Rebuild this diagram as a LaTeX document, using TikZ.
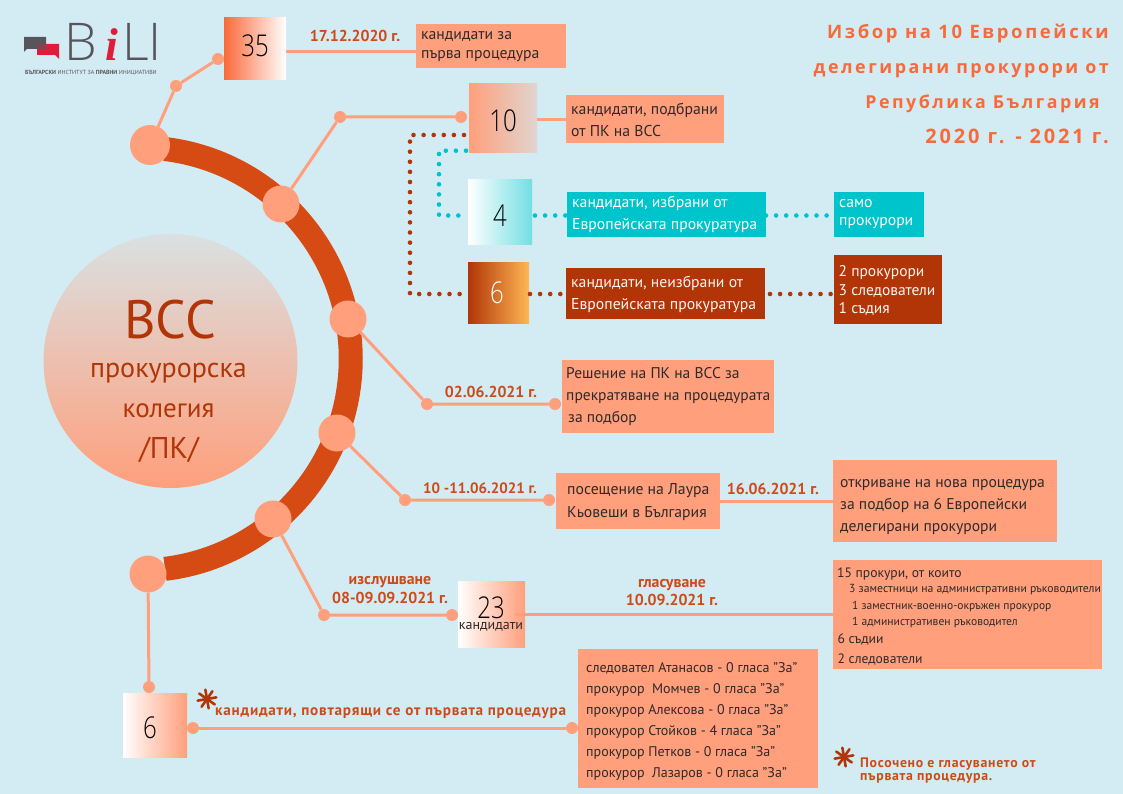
\documentclass[tikz,border=0pt]{standalone}
\usepackage{fontspec}
\usepackage{graphicx}
\setmainfont{PT Sans}
\newfontfamily\numfont{Open Sans Light}
\newfontfamily\ttlfont[LetterSpace=14]{Open Sans}
\newfontfamily\labfont[LetterSpace=5]{PT Sans}
\newfontfamily\logoifont{Liberation Serif}
\usetikzlibrary{calc}
\definecolor{bgc}{HTML}{D3ECF4}
\definecolor{sal}{HTML}{FF9F7C}
\definecolor{arcc}{HTML}{D64B14}
\definecolor{rust}{HTML}{B23507}
\definecolor{teal}{HTML}{00C4CC}
\definecolor{ttl}{HTML}{F96A3A}
\definecolor{lbl}{HTML}{CE4A17}
\definecolor{ink}{HTML}{2E2A2A}
\definecolor{logog}{HTML}{55555B}
\definecolor{logor}{HTML}{E31B3A}
\definecolor{amberc}{HTML}{FFB754}
\tikzset{
 x=1pt,y=-1pt,
 conn/.style={draw=sal,line width=3pt},
 dot/.style={circle,fill=sal,inner sep=0pt,minimum size=12pt},
 hub/.style={circle,fill=sal,inner sep=0pt,minimum size=37pt},
 numtxt/.style={inner sep=0pt,text=black,font=\numfont\fontsize{30}{30}\selectfont},
 txtbox/.style={fill=sal,inner ysep=0pt,inner xsep=5pt,text=ink,align=left},
 lab/.style={text=lbl,font=\bfseries\fontsize{15.8}{18.5}\selectfont,align=center,inner sep=0pt},
 lineT/.style={inner sep=0pt,anchor=base west,text=ink},
 ttlstyle/.style={text=ttl,inner sep=0pt,anchor=base east},
 dotsT/.style={draw=teal,line width=4.6pt,line cap=round,dash pattern=on 0pt off 10.1pt},
 dotsR/.style={draw=rust,line width=4.6pt,line cap=round,dash pattern=on 0pt off 10.1pt},
 asterisk/.style={draw=rust,line width=2.6pt,line cap=round},
}
% opts, name, x0,y0,x1,y1, dy, text
\newcommand{\bx}[8][]{%
 \pgfmathsetmacro{\bw}{#5-#3}\pgfmathsetmacro{\bh}{#6-#4}\pgfmathsetmacro{\bcx}{(#5+#3)/2}\pgfmathsetmacro{\bcy}{(#6+#4)/2}\pgfmathsetmacro{\tcy}{\bcy+#7}
 \node[txtbox,minimum width=\bw pt,minimum height=\bh pt,#1] (#2) at (\bcx,\bcy) {};
 \node[txtbox,#1,fill=none,anchor=west] (#2t) at (#3,\tcy) {#8};}
\newcommand{\nb}[7]{% name,x0,y0,x1,y1,leftcolor,rightcolor
 \pgfmathsetmacro{\bw}{#4-#2}\pgfmathsetmacro{\bh}{#5-#3}\pgfmathsetmacro{\bcx}{(#4+#2)/2}\pgfmathsetmacro{\bcy}{(#5+#3)/2}
 \node[inner sep=0pt,minimum width=\bw pt,minimum height=\bh pt,left color=#6,right color=#7,shading=axis,shading angle=90] (#1) at (\bcx,\bcy) {};}
\newcommand{\num}[1]{\scalebox{.8}[1]{#1}}
\newcommand{\astk}[2]{% x,y
 \foreach \aa in {10,55,100,145,190,235,280,325}{\draw[asterisk] (#1,#2) -- ++(\aa:9.5pt);}}
\begin{document}
\begin{tikzpicture}
\useasboundingbox (0,0) rectangle (1123,794);
\fill[bgc] (0,0) rectangle (1123,794);
% logo
\fill[logog] (24,37) -- (46,37) -- (46,49) -- (27,49) -- (24,52) -- cycle;
\fill[logor] (37,44) -- (59,44) -- (59,59) -- (55,55) -- (37,55) -- cycle;
\fill[logog!70!logor] (37,44) rectangle (46,49);
\node[inner sep=0pt,anchor=base west,text=logog,text depth=0pt,font=\numfont\fontsize{52}{52}\selectfont] (logoB) at (64,61) {B};
\node[inner sep=0pt,anchor=base,text=logor,text depth=0pt,font=\logoifont\bfseries\itshape\fontsize{46}{46}\selectfont] (logoI) at (112,61) {i};
\node[inner sep=0pt,anchor=base west,text=logog,text depth=0pt,font=\numfont\fontsize{52}{52}\selectfont] (logoL) at (122,61) {LI};
\node[inner sep=0pt,anchor=west,text=logog,text height=4pt,font=\fontsize{5.9}{7}\selectfont] (logoT) at (25,72.5) {\bfseries БЪЛГАРСКИ \mdseries ИНСТИТУТ ЗА \bfseries ПРАВНИ \mdseries ИНИЦИАТИВИ};
% big circle
\shade[shading=axis,top color=bgc!85!sal,bottom color=sal] (170.5,361) circle (127pt);
\node[text=rust,inner sep=0pt,anchor=base,font=\fontsize{54}{54}\selectfont] (vss) at (170,338) {ВСС};
\node[text=rust,inner sep=0pt,anchor=base,font=\fontsize{28}{28}\selectfont] (pk1) at (168.5,377) {прокурорска};
\node[text=rust,inner sep=0pt,anchor=base,font=\fontsize{27}{27}\selectfont] (pk2) at (168.5,417) {колегия};
\node[text=rust,inner sep=0pt,anchor=base,font=\fontsize{30}{30}\selectfont] (pk3) at (169,458) {/ПК/};
% arc
\draw[arcc,line width=24pt] (165,149) arc[start angle=83,end angle=-83,radius=211.5pt];
% hubs
\node[hub,minimum size=40pt] (h1) at (150,145) {};
\node[hub] (h2) at (281,204) {};
\node[hub] (h3) at (348,319) {};
\node[hub] (h4) at (337,433) {};
\node[hub] (h5) at (273,519) {};
\node[hub] (h6) at (148,574) {};
% small dots
\node[dot] (d1a) at (176,86) {};
\node[dot] (d1b) at (218,59) {};
\node[dot] (d2) at (340,117) {};
\node[dot] (d2b) at (461,117) {};
\node[dot] (d3a) at (427,404) {};
\node[dot] (d3b) at (555,404) {};
\node[dot] (d4a) at (405,500) {};
\node[dot] (d4b) at (549,500) {};
\node[dot] (d5a) at (324,615) {};
\node[dot] (d5b) at (452,615) {};
\node[dot] (d6) at (149,687) {};
\node[dot] (d7a) at (193,728) {};
\node[dot] (d7b) at (572,728) {};
% free ends
\coordinate (c35) at (286,51.5);
\coordinate (ct1) at (416,51.5);
\coordinate (c10) at (537,119.3);
\coordinate (ct2) at (567,119.3);
\coordinate (c23) at (515,614.7);
\coordinate (ct10) at (833,614.7);
\coordinate (ct8) at (720,501.5);
\coordinate (ct9) at (833,501.5);
% connectors
\draw[conn] (h1) -- (d1a) -- (d1b);
\draw[conn] (h2) -- (d2) -- (d2b);
\draw[conn] (h3) -- (d3a) -- (d3b);
\draw[conn] (h4) -- (d4a) -- (d4b);
\draw[conn] (h5) -- (d5a) -- (d5b);
\draw[conn] (h6) -- (d6);
\draw[conn] (d7a) -- (d7b);
\draw[conn] (c35) -- (ct1);
\draw[conn] (c10) -- (ct2);
\draw[conn] (ct8) -- (ct9);
% gradient boxes
\nb{n35}{224}{18}{286}{80}{ttl}{white}
\node[numtxt] (n35t) at (255,46) {\num{35}};
\nb{n10}{469}{84}{537}{153}{sal}{bgc!70!sal}
\node[numtxt] (n10t) at (503,121) {\num{10}};
\nb{n4}{468}{180}{532}{244}{white}{teal!55!white}
\node[numtxt] (n4t) at (500,216) {\num{4}};
\nb{n6a}{468}{262}{529}{323}{rust}{amberc}
\node[numtxt,text=white] (n6at) at (497,293) {\num{6}};
\nb{n23}{458}{581}{525}{647}{white}{sal}
\draw[conn] (c23) -- (ct10);
\node[numtxt,text depth=0pt] (n23t) at (491,608) {\num{23}};
\node[inner sep=0pt,text=ink,text height=8pt,font=\fontsize{14}{14}\selectfont] (n23b) at (491,626) {кандидати};
\nb{n6b}{123}{693}{187}{757}{white}{sal}
\node[numtxt] (n6bt) at (150,728) {\num{6}};
% text boxes
\bx[font=\fontsize{15.7}{19}\selectfont]{t1}{416}{24}{566}{68}{1}{кандидати за\\първа процедура}
\bx[font=\fontsize{15.7}{22}\selectfont]{t2}{566}{95}{724}{143}{1}{кандидати, подбрани\\от ПК на ВСС}
\bx[fill=teal,text=white,font=\fontsize{15.7}{22}\selectfont]{t3}{567}{192}{766}{237}{0}{кандидати, избрани от\\Европейската прокуратура}
\bx[fill=teal,text=white,font=\fontsize{15.7}{18}\selectfont]{t4}{834}{192}{924}{237}{0}{само\\прокурори}
\bx[fill=rust,text=white!90!sal,font=\fontsize{15.7}{22}\selectfont]{t5}{566}{268}{765}{319}{1}{кандидати, неизбрани от\\Европейската прокуратура}
\bx[fill=rust,text=white!90!sal,inner xsep=4.5pt,font=\fontsize{15.5}{18.5}\selectfont]{t6}{834}{255}{942}{324}{1}{2 прокурори\\3 следователи\\1 съдия}
\bx[inner xsep=4pt,font=\fontsize{15.5}{22}\selectfont]{t7}{562}{360}{774}{432.5}{0}{Решение на ПК на ВСС за\\прекратяване на процедурата\\\hspace*{2pt}за подбор}
\bx[inner xsep=11pt,font=\fontsize{15.7}{22.5}\selectfont]{t8}{556}{473}{720}{529}{1}{посещение на Лаура\\Кьовеши в България}
\bx[inner xsep=7pt,font=\fontsize{15.6}{22}\selectfont]{t9}{833}{460}{1057}{542}{6}{откриване на нова процедура\\за подбор на 6 Европейски\\делегирани прокурори}
\node[fill=sal,inner sep=0pt,minimum width=269pt,minimum height=109pt] (t10) at (967.5,614.5) {};
\node[lineT,font=\fontsize{13.6}{14}\selectfont] (t10a) at (837,577) {15 прокури, от които};
\node[lineT,font=\fontsize{11.7}{12}\selectfont] (t10b) at (849,592) {3 заместници на административни ръководители};
\node[lineT,font=\fontsize{11.5}{12}\selectfont] (t10c) at (852,609) {1 заместник-военно-окръжен прокурор};
\node[lineT,font=\fontsize{11.6}{12}\selectfont] (t10d) at (852,625) {1 административен ръководител};
\node[lineT,font=\fontsize{13.6}{14}\selectfont] (t10e) at (837.5,643) {6 съдии};
\node[lineT,font=\fontsize{13.6}{14}\selectfont] (t10f) at (837.5,663) {2 следователи};
\bx[inner xsep=8pt,font=\fontsize{14}{21}\selectfont]{t12}{578}{649}{818}{788}{3}{следовател Атанасов - 0 гласа "За"\\прокурор\ \ Момчев - 0 гласа "За"\\прокурор Алексова - 0 гласа "За"\\прокурор Стойков - 4 гласа "За"\\прокурор Петков - 0 гласа "За"\\прокурор\ \ Лазаров - 0 гласа "За"}
% dotted connectors
\coordinate (tA) at (466,150.7);
\coordinate (tB) at (439,150.7);
\coordinate (tC) at (439,215.5);
\coordinate (tD) at (468,215.5);
\coordinate (tE) at (535,215.5);
\coordinate (tF) at (567,215.5);
\coordinate (tG) at (766,215.5);
\coordinate (tH) at (830,215.5);
\draw[dotsT] (tA) -- (tB) -- (tC) -- (tD);
\draw[dotsT] (tE) -- (tF);
\draw[dotsT] (tG) -- (tH);
\coordinate (rA) at (464,135);
\coordinate (rB) at (410,135);
\coordinate (rC) at (410,294);
\coordinate (rD) at (464,294);
\coordinate (rE) at (530,294);
\coordinate (rF) at (565,294);
\coordinate (rG) at (770,294);
\coordinate (rH) at (831,294);
\draw[dotsR] (rA) -- (rB) -- (rC) -- (rD);
\draw[dotsR] (rE) -- (rF);
\draw[dotsR] (rG) -- (rH);
% date labels
\node[lab] (l1) at (355,36) {17.12.2020 г.};
\node[lab] (l2) at (491,392) {02.06.2021 г.};
\node[lab,font=\bfseries\fontsize{15}{18}\selectfont] (l3) at (480,488) {10 -11.06.2021 г.};
\node[lab] (l4) at (773,489) {16.06.2021 г.};
\node[lab] (l5) at (390,590) {изслушване\\08-09.09.2021 г.};
\node[lab] (l6) at (672,592.5) {гласуване\\10.09.2021 г.};
\node[lab,anchor=base west,font=\labfont\bfseries\fontsize{15.2}{15}\selectfont] (l7) at (215,715) {кандидати, повтарящи се от първата процедура};
\node[lab,anchor=base west,align=left,font=\labfont\bfseries\fontsize{13.8}{13}\selectfont] (l8) at (860,780) {Посочено е гласуването от\\първата процедура.};
% asterisks
\astk{207}{699}
\astk{844}{757}
% title
\node[ttlstyle,font=\ttlfont\bfseries\fontsize{18.5}{20}\selectfont] (ti1) at (1109,39) {Избор на 10 Европейски};
\node[ttlstyle,font=\ttlfont\bfseries\fontsize{17.9}{20}\selectfont] (ti2) at (1109,74) {делегирани прокурори от};
\node[ttlstyle,font=\ttlfont\bfseries\fontsize{17.8}{20}\selectfont] (ti3) at (1100,109) {Република България};
\node[ttlstyle,font=\ttlfont\bfseries\fontsize{20}{20}\selectfont] (ti4) at (1109,144) {2020 г. - 2021 г.};
\end{tikzpicture}
\end{document}
